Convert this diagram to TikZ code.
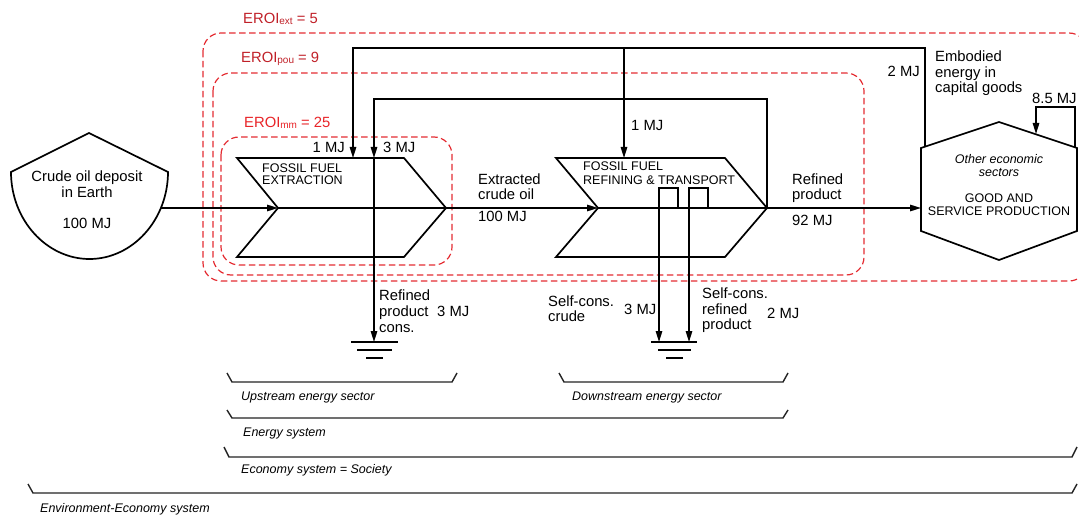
\documentclass[tikz,border=0pt]{standalone}
\usepackage{fontspec}
\setmainfont{Liberation Sans}
\usetikzlibrary{arrows.meta}
\definecolor{eroidark}{RGB}{192,32,40}
\definecolor{eroired}{RGB}{232,36,40}
\definecolor{dashred}{RGB}{228,44,50}
\definecolor{brk}{RGB}{35,35,35}
\newcommand\esub[1]{{\fontsize{10}{10}\selectfont\raisebox{-0.6pt}{#1}}}
\tikzset{
  eroibox/.style={draw=dashred, line width=1.2pt, dash pattern=on 6.5pt off 3.5pt, rounded corners=18pt},
  eroilbl/.style={font=\fontsize{14.8}{15}\selectfont, inner sep=0pt, anchor=base west},
  shp/.style={draw=black, line width=1.7pt, line join=miter},
  flow/.style={draw=black, line width=1.4pt, -{Triangle[length=11pt,width=6.5pt]}},
  plainline/.style={draw=black, line width=1.4pt},
  gnd/.style={draw=black, line width=2pt},
  brkt/.style={draw=brk, line width=1.4pt},
  lblM/.style={font=\fontsize{14.8}{15.3}\selectfont, inner sep=0pt, anchor=base west},
  lblMc/.style={font=\fontsize{14.8}{15.3}\selectfont, inner sep=0pt, anchor=base},
  lblMe/.style={font=\fontsize{14.8}{15.3}\selectfont, inner sep=0pt, anchor=base east},
  lblS/.style={font=\fontsize{12.5}{13}\selectfont, inner sep=0pt, anchor=base west},
  lblSc/.style={font=\fontsize{12.5}{13}\selectfont, inner sep=0pt, anchor=base},
  lblI/.style={font=\fontsize{12.5}{13}\selectfont\itshape, inner sep=0pt, anchor=base west},
}
\begin{document}
\begin{tikzpicture}[x=1pt,y=-1pt]
\useasboundingbox (0,0) rectangle (1079,516);

% ---------- EROI boundaries ----------
\draw[eroibox] (203,33) rectangle (1087,281);
\draw[eroibox] (213,73) rectangle (864,275);
\draw[eroibox] (221,137) rectangle (452,265);
\node[eroilbl, text=eroidark] (eext) at (243,24) {EROI\esub{ext} = 5};
\node[eroilbl, text=eroidark] (epou) at (241,63) {EROI\esub{pou} = 9};
\node[eroilbl, text=eroired]  (emm)  at (244,128) {EROI\esub{mm} = 25};

% ---------- Crude oil deposit ----------
\draw[shp] (11,172) -- (89,133) -- (168,172)
  .. controls (168,220) and (132.4,259) .. (89.5,259)
  .. controls (46.6,259) and (11,220) .. (11,172) -- cycle;
\node[lblMc] (dep1) at (87,182) {Crude oil deposit};
\node[lblMc] (dep2) at (87,197) {in Earth};
\node[lblMc] (dep3) at (87,228) {100 MJ};
\coordinate (depout) at (161,208);

% ---------- Chevron 1: extraction ----------
\draw[shp] (237,158) -- (404,158) -- (446,208) -- (404,257) -- (237,257) -- (278,208) -- cycle;
\coordinate (c1notch) at (278,208);
\coordinate (c1tip) at (446,208);
\node[lblS] (c1t1) at (262,172) {FOSSIL FUEL};
\node[lblS] (c1t2) at (262,185) {EXTRACTION};

% ---------- Chevron 2: refining ----------
\draw[shp] (556,158) -- (725,158) -- (767,208) -- (725,257) -- (556,257) -- (598,208) -- cycle;
\coordinate (c2notch) at (598,208);
\coordinate (c2tip) at (767,208);
\node[lblS] (c2t1) at (583,171) {FOSSIL FUEL};
\node[lblS] (c2t2) at (583,185) {REFINING \& TRANSPORT};

% ---------- Hexagon: other sectors ----------
\draw[shp] (921,148) -- (999,122) -- (1077,148) -- (1077,231) -- (999,260) -- (921,231) -- cycle;
\coordinate (hexin) at (921,208);
\node[lblSc, font=\fontsize{12.5}{13}\selectfont\itshape] (hx1) at (999,163.5) {Other economic};
\node[lblSc, font=\fontsize{12.5}{13}\selectfont\itshape] (hx2) at (999,176.5) {sectors};
\node[lblSc] (hx3) at (999,202) {GOOD AND};
\node[lblSc] (hx4) at (999,215.5) {SERVICE PRODUCTION};

% ---------- main flow ----------
\draw[flow] (depout) -- (c1notch);
\draw[plainline] (c1notch) -- (c1tip);
\draw[flow] (c1tip) -- (c2notch);
\draw[plainline] (c2notch) -- (c2tip);
\draw[flow] (c2tip) -- (hexin);
\node[lblM] (ex1) at (478,185) {Extracted};
\node[lblM] (ex2) at (478,200) {crude oil};
\node[lblM] (ex3) at (478,221) {100 MJ};
\node[lblM] (rp1) at (792,185) {Refined};
\node[lblM] (rp2) at (792,200) {product};
\node[lblM] (rp3) at (792,225) {92 MJ};

% ---------- feedback: embodied energy ----------
\coordinate (hexfb) at (925,146.7);
\coordinate (fbtopR) at (925,48);
\coordinate (fbtopL) at (353,48);
\coordinate (fbmid) at (624,48);
\coordinate (c1in1) at (353,158);
\coordinate (c2in1) at (624,158);
\draw[flow] (hexfb) -- (fbtopR) -- (fbtopL) -- (c1in1);
\draw[flow] (fbmid) -- (c2in1);
\node[lblMe] (l2mj) at (920,77) {2 MJ};
\node[lblM] (emb1) at (935,62) {Embodied};
\node[lblM] (emb2) at (935,77.5) {energy in};
\node[lblM] (emb3) at (935,92.5) {capital goods};
\node[lblMe] (l1mja) at (345,153) {1 MJ};
\node[lblM] (l1mjb) at (631,131) {1 MJ};

% ---------- feedback: refined product to extraction ----------
\coordinate (rfR) at (767,99);
\coordinate (rfL) at (374,99);
\coordinate (c1in2) at (374,158);
\coordinate (g1) at (374,342);
\draw[flow] (c2tip) -- (rfR) -- (rfL) -- (c1in2);
\draw[flow] (c1in2) -- (g1);
\node[lblM] (l3mja) at (383,153) {3 MJ};

% ---------- self loop ----------
\coordinate (slA) at (1075,147.3);
\coordinate (slB) at (1075,107);
\coordinate (slC) at (1036,107);
\coordinate (slD) at (1036,134);
\draw[flow] (slA) -- (slB) -- (slC) -- (slD);
\node[lblM] (l85) at (1032,104) {8.5 MJ};

% ---------- self-consumption in refining ----------
\coordinate (b1a) at (678,208);
\coordinate (b1b) at (678,188);
\coordinate (b1c) at (659,188);
\coordinate (g2a) at (659,342);
\coordinate (b2a) at (708,208);
\coordinate (b2b) at (708,188);
\coordinate (b2c) at (689,188);
\coordinate (g2b) at (689,342);
\draw[flow] (b1a) -- (b1b) -- (b1c) -- (g2a);
\draw[flow] (b2a) -- (b2b) -- (b2c) -- (g2b);

% ---------- grounds ----------
\draw[gnd] (351,342) -- (398,342);
\draw[gnd] (357,350) -- (392,350);
\draw[gnd] (366,357.5) -- (383,357.5);
\draw[gnd] (651,342) -- (697,342);
\draw[gnd] (658,350) -- (691,350);
\draw[gnd] (666,357.5) -- (683,357.5);

\node[lblM] (rc1) at (379,300) {Refined};
\node[lblM] (rc2) at (379,316) {product};
\node[lblM] (rc3) at (379,332) {cons.};
\node[lblM] (rc4) at (437,316) {3 MJ};
\node[lblM] (sc1) at (548,306) {Self-cons.};
\node[lblM] (sc2) at (548,321) {crude};
\node[lblM] (sc3) at (624,314) {3 MJ};
\node[lblM] (sr1) at (702,298) {Self-cons.};
\node[lblM] (sr2) at (702,314) {refined};
\node[lblM] (sr3) at (702,329) {product};
\node[lblM] (sr4) at (767,318) {2 MJ};

% ---------- brackets ----------
\draw[brkt] (227,373) -- (232,382) -- (452,382) -- (457,373);
\node[lblI] (bu) at (241,400) {Upstream energy sector};
\draw[brkt] (559,373) -- (564,382) -- (783,382) -- (788,373);
\node[lblI] (bd) at (572,400) {Downstream energy sector};
\draw[brkt] (227,410) -- (232,418) -- (783,418) -- (788,410);
\node[lblI] (be) at (243,436) {Energy system};
\draw[brkt] (224,447) -- (229,457) -- (1072,457) -- (1077,447);
\node[lblI] (bs) at (241,473) {Economy system = Society};
\draw[brkt] (28,484) -- (33,493) -- (1072,493) -- (1077,484);
\node[lblI] (bee) at (40,512) {Environment-Economy system};
\end{tikzpicture}
\end{document}
